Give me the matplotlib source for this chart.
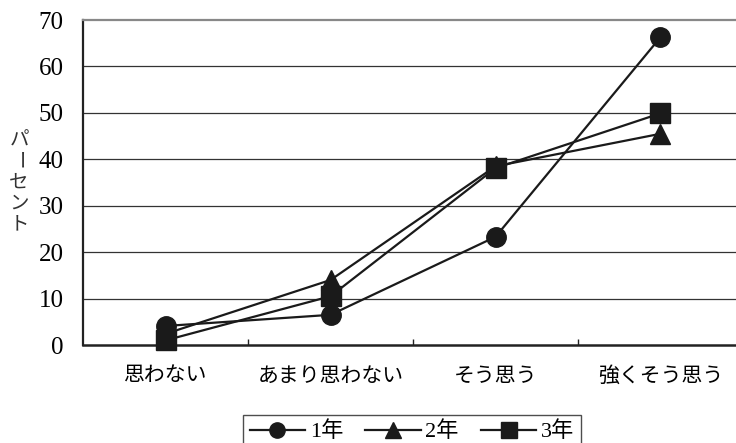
import matplotlib
matplotlib.use('Agg')
import matplotlib.pyplot as plt
from matplotlib.ticker import FixedLocator

plt.rcParams['font.family'] = ['Noto Sans CJK JP', 'DejaVu Sans']

categories = ['思わない', 'あまり思わない', 'そう思う', '強くそう思う']
year1 = [4.1, 6.5, 23.3, 66.3]
year2 = [2.4, 14.0, 38.5, 45.5]
year3 = [1.0, 10.5, 38.1, 49.9]
series_names = ['1年', '2年', '3年']
markers = ['o', '^', 's']
y_ticks = [0, 10, 20, 30, 40, 50, 60, 70]

fig = plt.figure(figsize=(7.36, 4.43), dpi=100)
ax = fig.add_axes([0.1128, 0.2212, 0.8967, 0.7336])

x = range(len(categories))
for vals, name, m in zip([year1, year2, year3], series_names, markers):
    ax.plot(x, vals, color='#1a1a1a', lw=1.6, marker=m, markersize=14,
            markerfacecolor='#1a1a1a', markeredgecolor='#1a1a1a',
            label=name, clip_on=False, zorder=3)

ax.set_xlim(-0.5, 3.5)
ax.set_ylim(0, 70)
ax.set_yticks(y_ticks)
ax.set_yticklabels([str(v) for v in y_ticks], family='Liberation Serif', fontsize=18)
ax.tick_params(axis='y', length=0, pad=14)

ax.set_xticks(list(x))
ax.set_xticklabels(categories, fontsize=15)
ax.tick_params(axis='x', which='major', length=0, pad=14)
ax.xaxis.set_minor_locator(FixedLocator([0.5, 1.5, 2.5]))
ax.tick_params(axis='x', which='minor', direction='in', length=4, width=1, color='#222222')

for yv in y_ticks[1:-1]:
    ax.axhline(yv, color='#333333', lw=0.9, zorder=1)

ax.spines['left'].set_color('#222222')
ax.spines['left'].set_linewidth(1.6)
ax.spines['bottom'].set_color('#222222')
ax.spines['bottom'].set_linewidth(1.8)
ax.spines['top'].set_color('#888888')
ax.spines['top'].set_linewidth(1.6)
ax.spines['right'].set_visible(False)

# vertical axis title, one character per line
label_chars = ['パ', 'ー', 'セ', 'ン', 'ト']
for i, ch in enumerate(label_chars):
    rot = -90 if ch == 'ー' else 0
    fig.text(19 / 736, 1 - (140 + i * 21) / 443, ch, fontsize=14, rotation=rot,
             ha='center', va='center', color='#333333')

leg = fig.legend(loc='upper left', bbox_to_anchor=(243 / 736, 1 - 415 / 443),
                 borderaxespad=0, ncol=3, frameon=True, fancybox=False,
                 handlelength=2.5, columnspacing=1.0, handletextpad=0.2,
                 borderpad=0.3,
                 prop={'family': ['Liberation Serif', 'Noto Sans CJK JP'], 'size': 16})
leg.get_frame().set_edgecolor('#222222')
leg.get_frame().set_linewidth(1.0)
for h in leg.legend_handles:
    h.set_markersize(11)

fig.savefig('out.png', dpi=100)
